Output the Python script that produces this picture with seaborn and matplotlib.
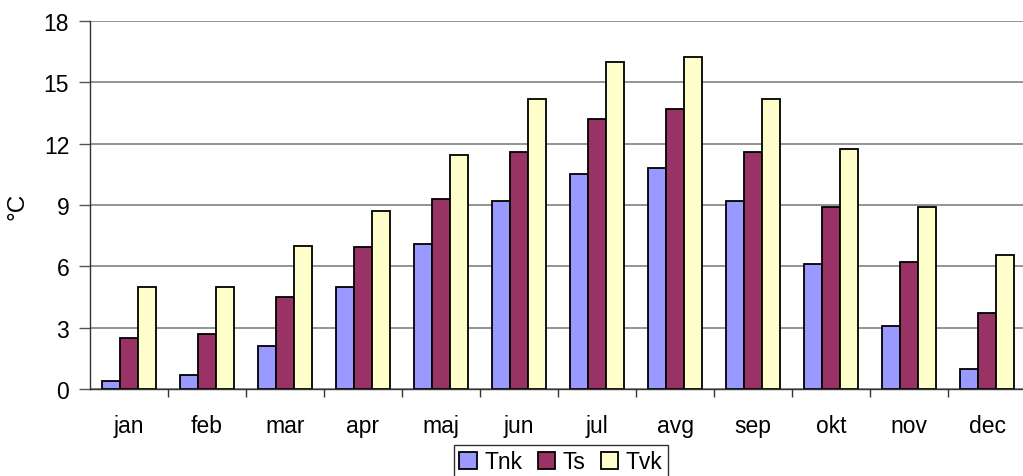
import matplotlib
matplotlib.use("Agg")
import matplotlib.pyplot as plt
import seaborn as sns
import pandas as pd
import numpy as np
from matplotlib.ticker import FixedLocator

months = ["jan", "feb", "mar", "apr", "maj", "jun", "jul", "avg", "sep", "okt", "nov", "dec"]
tnk = [0.4, 0.7, 2.1, 5.0, 7.1, 9.2, 10.5, 10.8, 9.2, 6.1, 3.1, 1.0]
ts = [2.5, 2.7, 4.5, 6.95, 9.3, 11.6, 13.2, 13.7, 11.6, 8.9, 6.2, 3.7]
tvk = [5.0, 5.0, 7.0, 8.7, 11.45, 14.2, 16.0, 16.25, 14.2, 11.75, 8.9, 6.55]
series = ["Tnk", "Ts", "Tvk"]
colors = ["#9999FF", "#993366", "#FFFFCC"]
yticks = [0, 3, 6, 9, 12, 15, 18]

df = pd.DataFrame({
    "month": months * 3,
    "series": ["Tnk"] * 12 + ["Ts"] * 12 + ["Tvk"] * 12,
    "value": tnk + ts + tvk,
})

sns.set_theme(style="white")
plt.rcParams["font.family"] = ["Liberation Sans", "DejaVu Sans"]
plt.rcParams["text.color"] = "black"
plt.rcParams["xtick.color"] = "black"
plt.rcParams["ytick.color"] = "black"
plt.rcParams["axes.labelcolor"] = "black"

FS = 16.5

fig = plt.figure(figsize=(10.23, 4.77), dpi=100)
ax = fig.add_axes([90 / 1023, 1 - 390 / 477, 936 / 1023, 368 / 477])

sns.barplot(data=df, x="month", y="value", hue="series", hue_order=series,
            palette=colors, width=0.69, edgecolor="black", linewidth=1.3,
            saturation=1, ax=ax, legend=True, gap=0)

ax.set_ylim(0, 18)
ax.set_xlim(-0.5, 11.5)
ax.set_yticks(yticks)
ax.set_yticklabels([str(v) for v in yticks], fontsize=FS)
ax.tick_params(axis="y", direction="out", length=8, width=1, color="#555555", pad=7, left=True)
ax.set_xticks(range(12))
ax.set_xticklabels(months, fontsize=FS)
ax.tick_params(axis="x", which="major", length=0, pad=18)
ax.xaxis.set_minor_locator(FixedLocator(np.arange(0.5, 11.5, 1)))
ax.tick_params(axis="x", which="minor", direction="out", length=6, width=1, color="#333333", bottom=True)
ax.yaxis.grid(True, color="#808080", linewidth=1.2)
ax.set_axisbelow(True)
for s in ["top", "right"]:
    ax.spines[s].set_visible(False)
for s in ["left", "bottom"]:
    ax.spines[s].set_color("#333333")
    ax.spines[s].set_linewidth(1)
ax.set_xlabel("")
ax.set_ylabel("°C", fontsize=FS + 1, labelpad=11)

leg = ax.legend(loc="center", bbox_to_anchor=(561 / 1023, 1 - 463 / 477),
                bbox_transform=fig.transFigure, ncol=3, frameon=True,
                fontsize=FS, handlelength=0.75, handleheight=0.75, handletextpad=0.35,
                columnspacing=0.65, borderpad=0.25, fancybox=False, edgecolor="black")
leg.get_frame().set_linewidth(1)

fig.savefig("out.png", dpi=100)
